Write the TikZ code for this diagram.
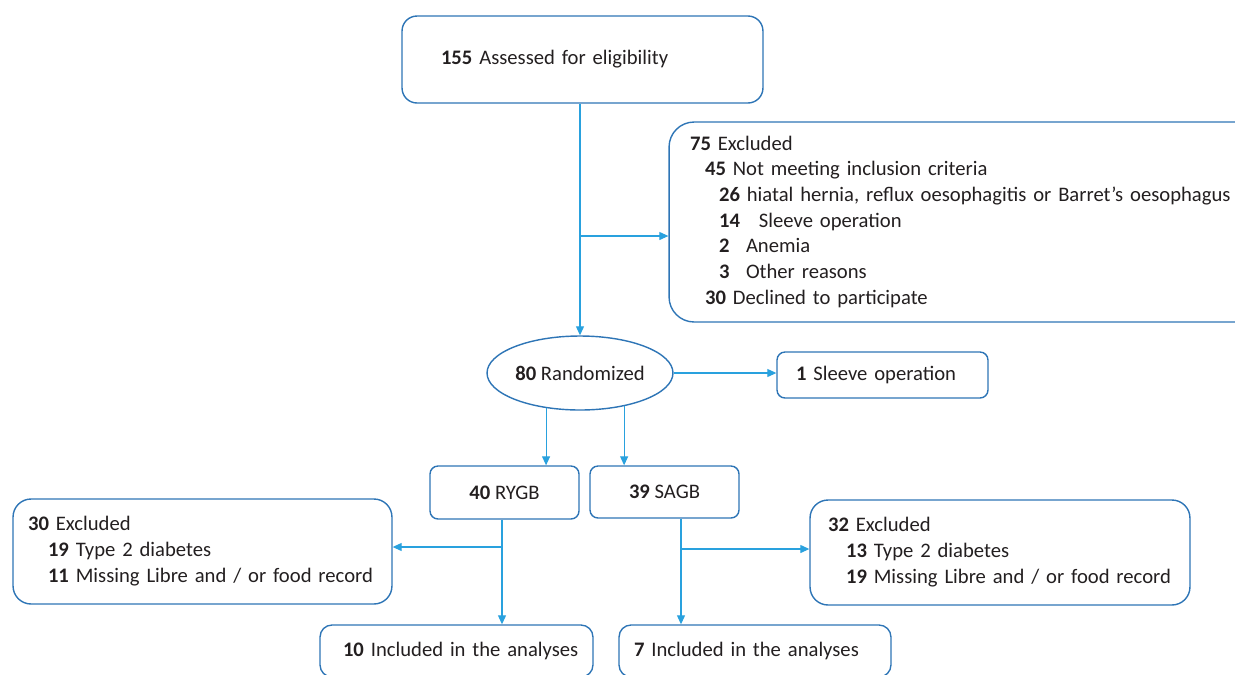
\documentclass[tikz,border=0pt]{standalone}
\usepackage{fontspec}
\setmainfont{Carlito}
\usetikzlibrary{shapes.geometric,arrows.meta}
\definecolor{boxblue}{RGB}{46,117,182}
\definecolor{lineblue}{RGB}{41,161,222}
\definecolor{ink}{RGB}{35,31,32}

\begin{document}
\begin{tikzpicture}[x=0.02cm,y=-0.02cm,
    box/.style={draw=boxblue, line width=0.8pt, align=left, text=ink, inner ysep=0pt,
        font=\fontsize{11.75}{14.6}\selectfont},
    arr/.style={draw=lineblue, line width=0.6pt, -{Triangle[length=1.8mm,width=1.6mm]}}]
\useasboundingbox (0,0) rectangle (1235,674);
\clip (0,0) rectangle (1235,674);

\node[box, rounded corners=0.3cm, minimum height=1.74cm, inner xsep=0.78cm, text width=5.66cm]
    (top) at (582.5,59.5) {\textbf{155} Assessed for eligibility};
\node[box, rounded corners=0.5cm, minimum height=4cm, inner xsep=0.42cm, text width=10.98cm]
    (exc1) at (964.5,222) {\begin{tabular}{@{}l@{}}
    \textbf{75} Excluded\\
    \hspace*{0.3cm}\textbf{45} Not meeting inclusion criteria\\
    \hspace*{0.58cm}\textbf{26} hiatal hernia, reflux oesophagitis or Barret’s oesophagus\\
    \hspace*{0.58cm}\textbf{14}\hspace{0.38cm}Sleeve operation\\
    \hspace*{0.58cm}\textbf{2}\hspace{0.33cm}Anemia\\
    \hspace*{0.58cm}\textbf{3}\hspace{0.33cm}Other reasons\\
    \hspace*{0.3cm}\textbf{30} Declined to participate
    \end{tabular}};
\node[box, ellipse, minimum width=3.72cm, minimum height=1.48cm, inner sep=0pt]
    (rand) at (580,373) {\textbf{80} Randomized};
\node[box, rounded corners=0.16cm, minimum height=0.92cm, inner xsep=0.38cm, text width=3.46cm]
    (slv) at (882.5,375) {\textbf{1} Sleeve operation};
\node[box, align=center, rounded corners=0.16cm, minimum width=2.98cm, minimum height=1.06cm]
    (ryg) at (504.5,492.5) {\textbf{40} RYGB};
\node[box, align=center, rounded corners=0.16cm, minimum width=2.98cm, minimum height=1.04cm]
    (sag) at (664.5,492) {\textbf{39} SAGB};
\node[box, rounded corners=0.36cm, minimum height=2.1cm, inner xsep=0.3cm, text width=6.98cm]
    (exc2) at (202.5,551.5) {\begin{tabular}{@{}l@{}}
    \textbf{30} Excluded\\
    \hspace*{0.4cm}\textbf{19} Type 2 diabetes\\
    \hspace*{0.4cm}\textbf{11} Missing Libre and / or food record
    \end{tabular}};
\node[box, rounded corners=0.36cm, minimum height=2.1cm, inner xsep=0.36cm, text width=6.88cm]
    (exc3) at (1000,552.5) {\begin{tabular}{@{}l@{}}
    \textbf{32} Excluded\\
    \hspace*{0.36cm}\textbf{13} Type 2 diabetes\\
    \hspace*{0.36cm}\textbf{19} Missing Libre and / or food record
    \end{tabular}};
\node[box, rounded corners=0.24cm, minimum height=1.04cm, inner xsep=0.46cm, text width=4.54cm]
    (inc1) at (456.5,651) {\mbox{\textbf{10} Included in the analyses}};
\node[box, rounded corners=0.24cm, minimum height=1.04cm, inner xsep=0.3cm, text width=4.84cm]
    (inc2) at (755,651) {\mbox{\textbf{7} Included in the analyses}};

\coordinate (j1) at (580,236);
\coordinate (j2) at (502,547);
\coordinate (j3) at (681,549);

\draw[arr] (top.south -| rand.north) -- (rand.north);
\draw[arr] (j1) -- (exc1.west |- j1);
\draw[arr] (rand.east) -- (slv.west |- rand.east);
\draw[arr] (rand.226) -- (rand.226 |- ryg.north);
\draw[arr] (rand.323) -- (rand.323 |- sag.north);
\draw[arr] (ryg.south -| j2) -- (j2 |- inc1.north);
\draw[arr] (j2) -- (exc2.east |- j2);
\draw[arr] (sag.south -| j3) -- (j3 |- inc2.north);
\draw[arr] (j3) -- (exc3.west |- j3);
\end{tikzpicture}
\end{document}
